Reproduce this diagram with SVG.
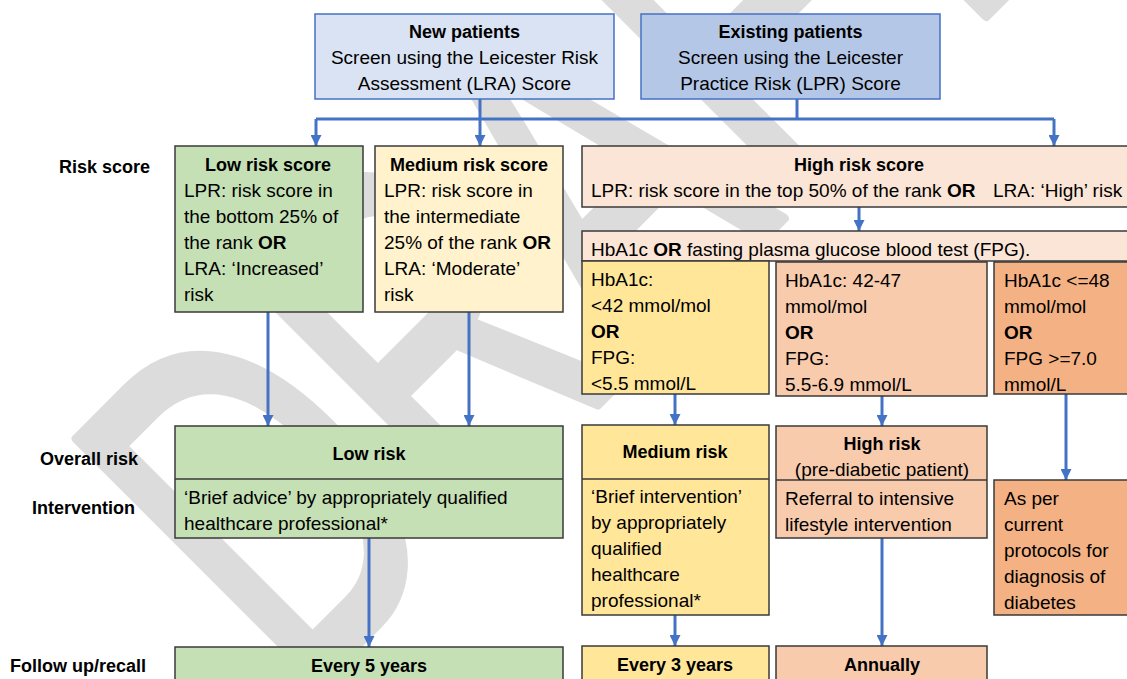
<svg xmlns="http://www.w3.org/2000/svg" width="1127" height="679" viewBox="0 0 1127 679">
<defs>
<marker id="ah" viewBox="0 0 10 10" markerUnits="userSpaceOnUse" markerWidth="11" markerHeight="11" refX="10" refY="5" orient="auto"><path d="M0,0 L10,5 L0,10 z" fill="#4472c4"/></marker>
<style>
text{font-family:"Liberation Sans",Arial,sans-serif;font-size:19px;fill:#000}
.b{font-weight:bold;font-size:18px}
.c{text-anchor:middle}
.bx{stroke:#3a3a3a;stroke-width:1.5}
.bl{stroke:#4472c4;stroke-width:1.5}
.cn{stroke:#4472c4;stroke-width:3;fill:none}
.ar{marker-end:url(#ah)}
.wm{font-family:"Liberation Sans",Arial,sans-serif;font-size:500px;fill:#dcdcdc;stroke:#dcdcdc;stroke-width:10;stroke-linejoin:round}
</style>
</defs>
<rect width="1127" height="679" fill="#ffffff"/>
<g id="watermark"><text class="wm" x="0" y="0" transform="translate(300,702) rotate(-45) scale(0.65,1)">DRAFT</text></g>

<g id="labels">
<text class="b" x="59" y="173">Risk score</text>
<text class="b" x="40" y="465">Overall risk</text>
<text class="b" x="32" y="514">Intervention</text>
<text class="b" x="10" y="672">Follow up/recall</text>
</g>

<g id="connectors">
<path class="cn" d="M316,119 H1054"/>
<path class="cn" d="M797,99 V119"/>
<path class="cn ar" d="M316,119 V146"/>
<path class="cn ar" d="M480,99 V146"/>
<path class="cn ar" d="M1054,119 V146"/>
<path class="cn ar" d="M268,312 V426"/>
<path class="cn ar" d="M469,312 V426"/>
<path class="cn ar" d="M859,207 V231"/>
<path class="cn ar" d="M675,394 V425"/>
<path class="cn ar" d="M882,396 V426"/>
<path class="cn ar" d="M1066,394 V480"/>
<path class="cn ar" d="M369,538 V647"/>
<path class="cn ar" d="M675,615 V646"/>
<path class="cn ar" d="M882,538 V646"/>
</g>

<g id="new-patients">
<rect class="bl" x="315" y="14" width="299" height="85" fill="#dae3f3"/>
<text class="b c" x="464.5" y="38">New patients</text>
<text class="c" x="464.5" y="64">Screen using the Leicester Risk</text>
<text class="c" x="464.5" y="90">Assessment (LRA) Score</text>
</g>

<g id="existing-patients">
<rect class="bl" x="641" y="14" width="299" height="85" fill="#b4c7e7"/>
<text class="b c" x="790.5" y="38">Existing patients</text>
<text class="c" x="790.5" y="64">Screen using the Leicester</text>
<text class="c" x="790.5" y="90">Practice Risk (LPR) Score</text>
</g>

<g id="low-risk-score">
<rect class="bx" x="175" y="146" width="188" height="166" fill="#c5e0b4"/>
<text class="b c" x="268" y="171">Low risk score</text>
<text x="184" y="197">LPR: risk score in</text>
<text x="184" y="223">the bottom 25% of</text>
<text x="184" y="249">the rank <tspan font-weight="bold">OR</tspan></text>
<text x="184" y="275">LRA: ‘Increased’</text>
<text x="184" y="301">risk</text>
</g>

<g id="medium-risk-score">
<rect class="bx" x="375" y="146" width="188" height="166" fill="#fff2cc"/>
<text class="b c" x="469" y="171">Medium risk score</text>
<text x="384" y="197">LPR: risk score in</text>
<text x="384" y="223">the intermediate</text>
<text x="384" y="249">25% of the rank <tspan font-weight="bold">OR</tspan></text>
<text x="384" y="275">LRA: ‘Moderate’</text>
<text x="384" y="301">risk</text>
</g>

<g id="high-risk-score">
<rect class="bx" x="582" y="146" width="560" height="61" fill="#fbe5d6"/>
<text class="b c" x="859" y="171">High risk score</text>
<text x="591" y="197">LPR: risk score in the top 50% of the rank <tspan font-weight="bold">OR</tspan><tspan x="993">LRA: ‘High’ risk</tspan></text>
</g>

<g id="blood-test">
<rect class="bx" x="582" y="231" width="560" height="30" fill="#fbe5d6"/>
<text x="591" y="256">HbA1c <tspan font-weight="bold">OR</tspan> fasting plasma glucose blood test (FPG).</text>
</g>

<g id="result-low">
<rect class="bx" x="582" y="261" width="187" height="133" fill="#ffe699"/>
<text x="591" y="286">HbA1c:</text>
<text x="591" y="312">&lt;42 mmol/mol</text>
<text x="591" y="338" font-weight="bold">OR</text>
<text x="591" y="364">FPG:</text>
<text x="591" y="390">&lt;5.5 mmol/L</text>
</g>

<g id="result-mid">
<rect class="bx" x="776" y="262" width="211" height="134" fill="#f8cbad"/>
<text x="785" y="287">HbA1c: 42-47</text>
<text x="785" y="313">mmol/mol</text>
<text x="785" y="339" font-weight="bold">OR</text>
<text x="785" y="365">FPG:</text>
<text x="785" y="391">5.5-6.9 mmol/L</text>
</g>

<g id="result-high">
<rect class="bx" x="994" y="262" width="150" height="132" fill="#f4b183"/>
<text x="1004" y="287">HbA1c &lt;=48</text>
<text x="1004" y="313">mmol/mol</text>
<text x="1004" y="339" font-weight="bold">OR</text>
<text x="1004" y="365">FPG &gt;=7.0</text>
<text x="1004" y="391">mmol/L</text>
</g>

<g id="low-risk">
<rect class="bx" x="175" y="426" width="388" height="112" fill="#c5e0b4"/>
<line class="bx" x1="175" y1="479" x2="563" y2="479"/>
<text class="b c" x="369" y="460">Low risk</text>
<text x="184" y="504">‘Brief advice’ by appropriately qualified</text>
<text x="184" y="530">healthcare professional*</text>
</g>

<g id="medium-risk">
<rect class="bx" x="582" y="425" width="187" height="190" fill="#ffe699"/>
<line class="bx" x1="582" y1="479" x2="769" y2="479"/>
<text class="b c" x="675" y="458">Medium risk</text>
<text x="591" y="503">‘Brief intervention’</text>
<text x="591" y="529">by appropriately</text>
<text x="591" y="555">qualified</text>
<text x="591" y="581">healthcare</text>
<text x="591" y="607">professional*</text>
</g>

<g id="high-risk">
<rect class="bx" x="776" y="426" width="211" height="112" fill="#f8cbad"/>
<line class="bx" x1="776" y1="480" x2="987" y2="480"/>
<text class="b c" x="882" y="450">High risk</text>
<text class="c" x="882" y="476">(pre-diabetic patient)</text>
<text x="785" y="505">Referral to intensive</text>
<text x="785" y="531">lifestyle intervention</text>
</g>

<g id="diabetes">
<rect class="bx" x="994" y="480" width="150" height="135" fill="#f4b183"/>
<text x="1004" y="505">As per</text>
<text x="1004" y="531">current</text>
<text x="1004" y="557">protocols for</text>
<text x="1004" y="583">diagnosis of</text>
<text x="1004" y="609">diabetes</text>
</g>

<g id="every-5-years">
<rect class="bx" x="175" y="647" width="388" height="50" fill="#c5e0b4"/>
<text class="b c" x="369" y="672">Every 5 years</text>
</g>

<g id="every-3-years">
<rect class="bx" x="582" y="646" width="187" height="50" fill="#ffe699"/>
<text class="b c" x="675" y="671">Every 3 years</text>
</g>

<g id="annually">
<rect class="bx" x="776" y="646" width="211" height="50" fill="#f8cbad"/>
<text class="b c" x="882" y="671">Annually</text>
</g>
</svg>
